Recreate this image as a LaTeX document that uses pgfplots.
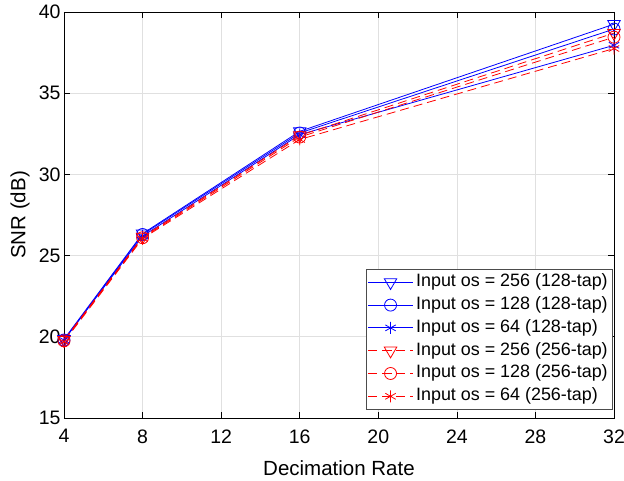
\documentclass[border=0pt]{standalone}
\usepackage{fontspec}
\setmainfont{Liberation Sans}
\usepackage{pgfplots}
\pgfplotsset{compat=1.18}

\begin{document}
\begin{tikzpicture}
\begin{axis}[
    scale only axis,
    width=550pt, height=406pt,
    xmin=4, xmax=32, ymin=15, ymax=40,
    xtick={4,8,12,16,20,24,28,32},
    ytick={15,20,25,30,35,40},
    tick align=inside,
    major tick length=6pt,
    tick style={black, line width=0.6pt},
    axis line style={black, line width=0.6pt},
    grid=major,
    grid style={black!12, line width=0.6pt},
    /pgf/number format/assume math mode=true,
    ticklabel style={font=\fontsize{19.5}{22}\selectfont},
    xticklabel style={yshift=-8pt},
    xlabel={Decimation Rate},
    ylabel={SNR (dB)},
    label style={font=\fontsize{20.5}{24}\selectfont},
    xlabel style={at={(axis description cs:0.5,-0.123)}, anchor=center},
    ylabel style={at={(axis description cs:-0.0800,0.5)}, anchor=center},
    legend cell align=left,
    legend style={at={(1,0)}, anchor=south east, xshift=-1pt, yshift=8pt,
        font=\fontsize{17.9}{21}\selectfont, draw=black!70, line width=0.6pt,
        inner sep=2pt, row sep=0pt,
        nodes={text height=12.8pt, text depth=4pt, inner sep=3pt}},
    legend image code/.code={\draw[mark repeat=2, mark phase=2]
        plot coordinates {(0cm,0cm) (0.78cm,0cm) (1.56cm,0cm)};},
    every axis plot/.append style={line width=0.8pt, mark size=6pt},
]
\addplot[blue, mark=triangle, mark options={rotate=180, solid, scale=1.2}] coordinates {
    (4,19.85) (8,26.35) (16,32.65) (32,39.25)};
\addlegendentry{Input os = 256 (128-tap)}
\addplot[blue, mark=o, mark options={solid}] coordinates {
    (4,19.8) (8,26.3) (16,32.55) (32,38.95)};
\addlegendentry{Input os = 128 (128-tap)}
\addplot[blue, mark=asterisk, mark options={solid}] coordinates {
    (4,19.8) (8,26.2) (16,32.45) (32,37.95)};
\addlegendentry{Input os = 64 (128-tap)}
\addplot[red, dash pattern=on 9pt off 5pt, mark=triangle, mark options={rotate=180, solid, scale=1.2}] coordinates {
    (4,19.8) (8,26.15) (16,32.4) (32,38.7)};
\addlegendentry{Input os = 256 (256-tap)}
\addplot[red, dash pattern=on 9pt off 5pt, mark=o, mark options={solid}] coordinates {
    (4,19.75) (8,26.1) (16,32.3) (32,38.45)};
\addlegendentry{Input os = 128 (256-tap)}
\addplot[red, dash pattern=on 9pt off 5pt, mark=asterisk, mark options={solid}] coordinates {
    (4,19.7) (8,26.05) (16,32.15) (32,37.75)};
\addlegendentry{Input os = 64 (256-tap)}
\end{axis}
\pgfresetboundingbox
\path ([shift={(-64pt,-63pt)}]current axis.south west) rectangle
      ([shift={(10pt,12pt)}]current axis.north east);
\end{tikzpicture}
\end{document}
